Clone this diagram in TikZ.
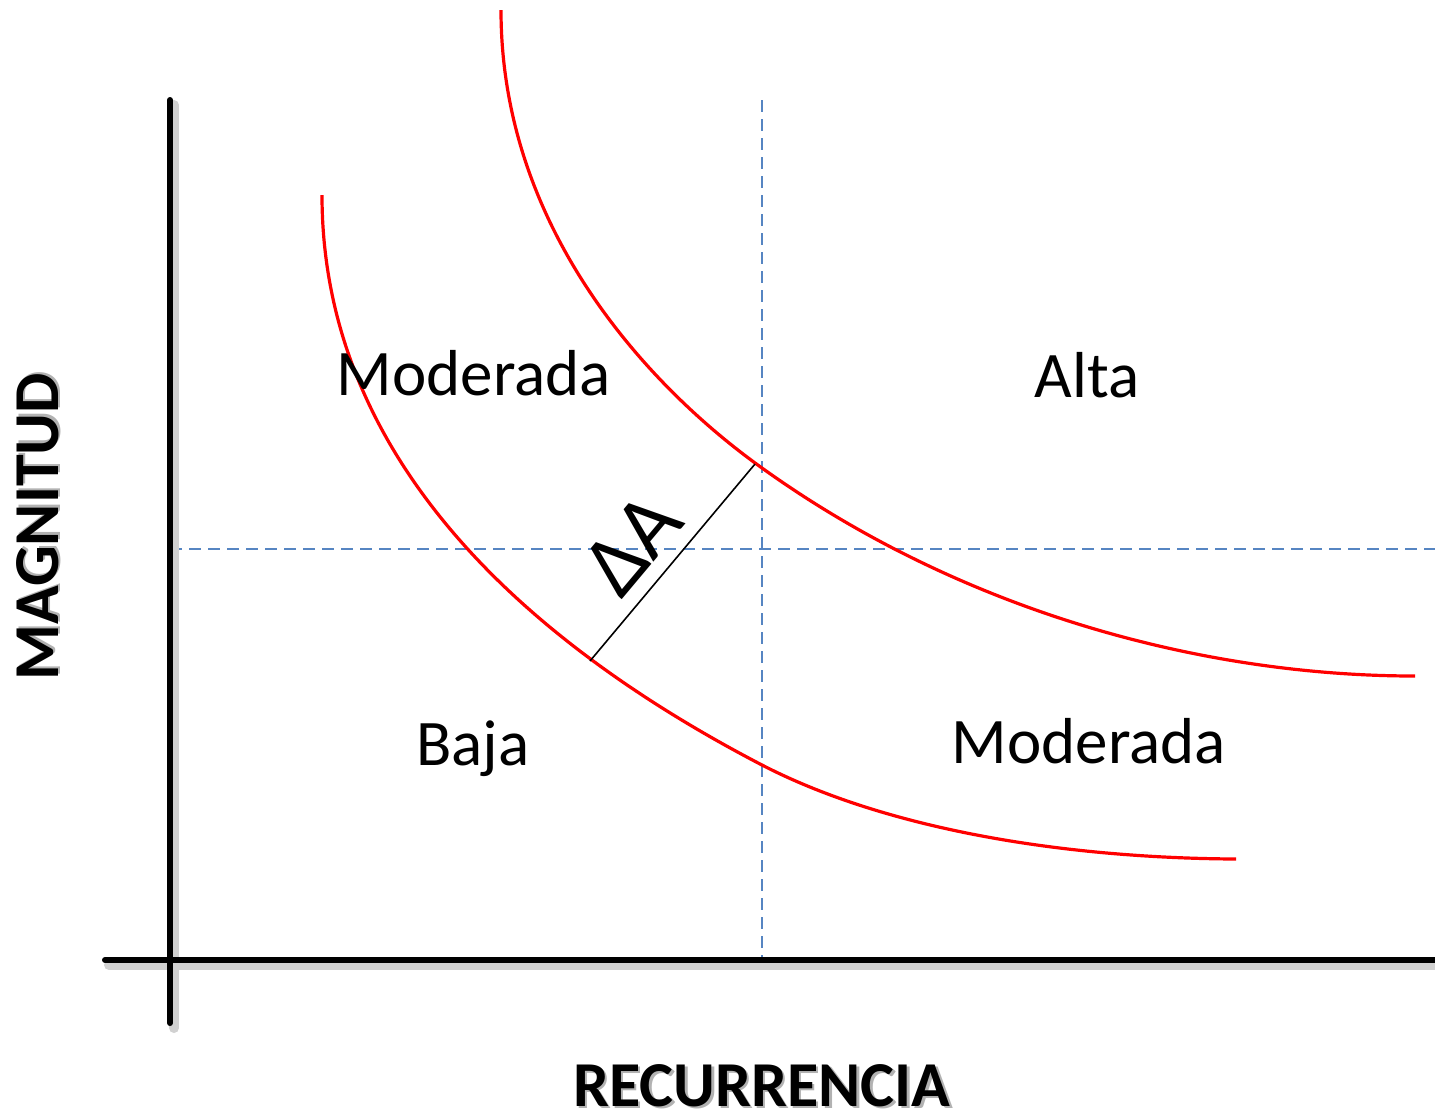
\documentclass[tikz,border=0pt]{standalone}
\usepackage{fontspec}
\setmainfont{Carlito}
\definecolor{dashblue}{RGB}{86,133,194}
\newcommand\shadowed[1]{\rlap{\kern1.2pt\raisebox{-1.4pt}{\color{black!30}#1}}#1}
\begin{document}
\begin{tikzpicture}[x=0.5pt,y=-0.5pt,
  axis/.style={line width=3pt, line cap=round},
  axshadow/.style={line width=5pt, line cap=round, black!18},
  guide/.style={dashblue, line width=1.2pt, dash pattern=on 6pt off 3.5pt},
  riskcurve/.style={red, line width=1.6pt},
  lbl/.style={font=\fontsize{32.5}{36}\selectfont, anchor=base, inner sep=0pt},
  axlbl/.style={font=\fontsize{32}{38}\selectfont\bfseries, anchor=base, inner sep=0pt}]
\useasboundingbox (0,0) rectangle (1435,1116);
% coordinates
\coordinate (vtop) at (170,100);
\coordinate (vbot) at (170,1023);
\coordinate (hl) at (105,960);
\coordinate (hr) at (1440,960);
\coordinate (gvt) at (762,100);
\coordinate (gvb) at (762,960);
\coordinate (ghl) at (170,549);
\coordinate (ghr) at (1435,549);
\coordinate (o0) at (501,10);
\coordinate (om) at (762,468);
\coordinate (o1) at (1415,676);
\coordinate (i0) at (322,195);
\coordinate (im) at (762,765);
\coordinate (i1) at (1236,859);
\coordinate (da) at (590,661);
\coordinate (db) at (755,464);
% guides
\draw[guide] (gvt) -- (gvb);
\draw[guide] (ghl) -- (ghr);
% axes shadows and axes
\draw[axshadow] ([shift={(4,5)}]vtop) -- ([shift={(4,5)}]vbot);
\draw[axshadow] ([shift={(4,5)}]hl) -- ([shift={(4,5)}]hr);
\draw[axis] (vtop) -- (vbot);
\draw[axis] (hl) -- (hr);
% curves
\draw[riskcurve] (o0) .. controls (501,230) and (650,388) .. (om)
  .. controls (960,610) and (1200,676) .. (o1);
\draw[riskcurve] (i0) .. controls (322,480) and (560,660) .. (im)
  .. controls (882,827) and (1055,858) .. (i1);
% delta line
\draw[line width=0.8pt] (da) -- (db);
\node[font=\fontsize{44}{48}\selectfont, anchor=base, inner sep=0pt, rotate=50] (dlt) at (654,562) {ΔA};
% labels
\node[lbl] (mod1) at (474,395) {Moderada};
\node[lbl] (alta) at (1087,397) {Alta};
\node[lbl] (baja) at (473,765) {Baja};
\node[lbl] (mod2) at (1089,763) {Moderada};
\node[axlbl] (xlab) at (762,1106) {\shadowed{RECURRENCIA}};
\node[axlbl, rotate=90] (ylab) at (58,527) {\shadowed{MAGNITUD}};
\end{tikzpicture}
\end{document}
